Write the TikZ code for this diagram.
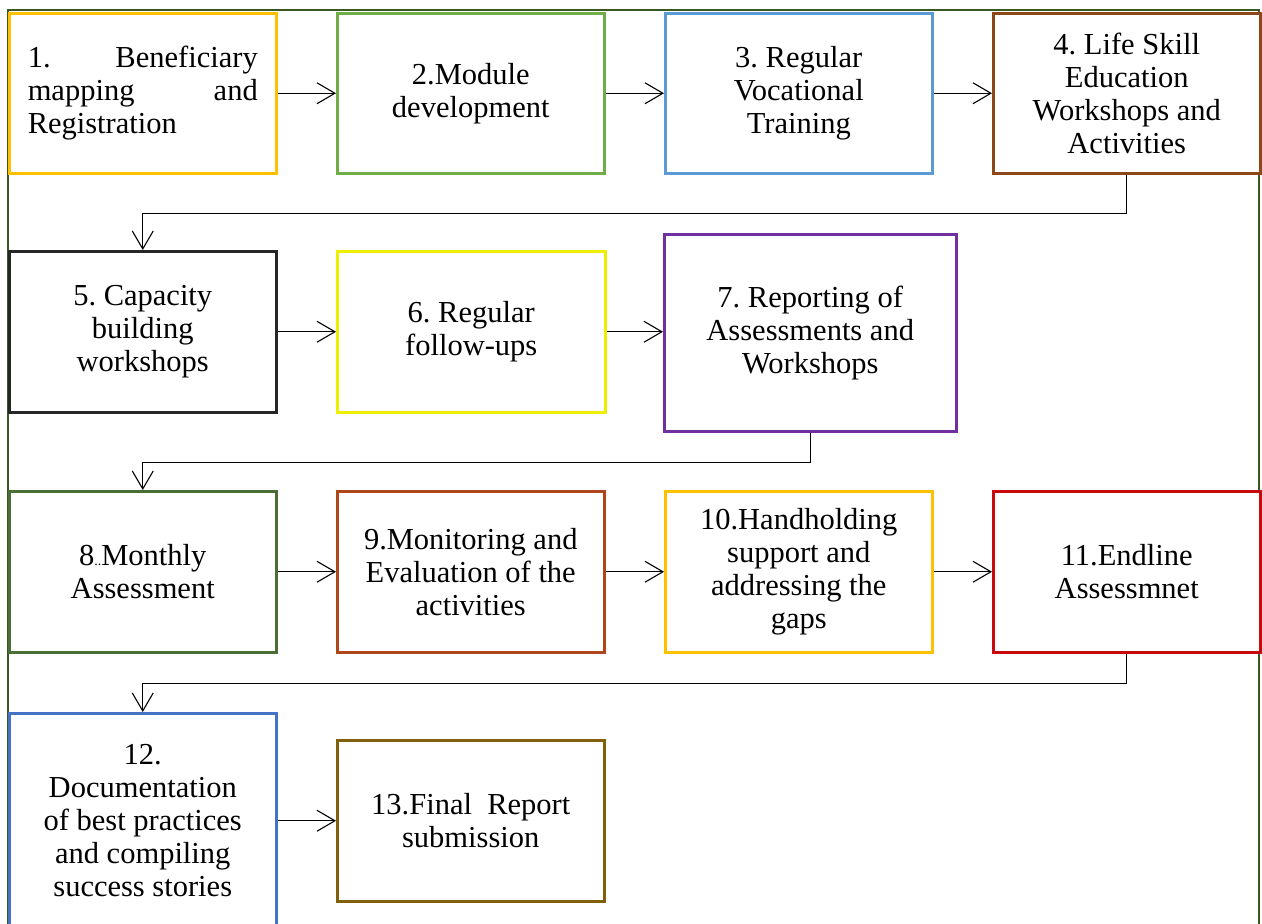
\documentclass[tikz,border=0pt]{standalone}
\usepackage{fontspec}
\setmainfont{Liberation Serif}
\usetikzlibrary{arrows.meta}
\frenchspacing
\definecolor{c1}{RGB}{255,192,0}
\definecolor{c2}{RGB}{112,173,71}
\definecolor{c3}{RGB}{91,155,213}
\definecolor{c4}{RGB}{140,72,25}
\definecolor{c5}{RGB}{38,38,38}
\definecolor{c6}{RGB}{238,238,0}
\definecolor{c7}{RGB}{112,48,160}
\definecolor{c8}{RGB}{75,110,55}
\definecolor{c9}{RGB}{175,70,25}
\definecolor{c10}{RGB}{255,192,0}
\definecolor{c11}{RGB}{200,10,10}
\definecolor{c12}{RGB}{68,114,196}
\definecolor{c13}{RGB}{128,96,10}
\definecolor{frame}{RGB}{56,87,35}
\begin{document}
\begin{tikzpicture}[x=1pt,y=-1pt,
  box/.style={draw, line width=2.5pt, fill=white, anchor=north west, inner sep=0pt,
    align=center, font=\fontsize{30.5}{33}\selectfont},
  arr/.style={line width=1.1pt, -{Straight Barb[length=18pt,width=21pt,line width=1.1pt]}}]
\useasboundingbox (0,0) rectangle (1262,924);
\fill[white] (0,0) rectangle (1262,924);
\draw[frame, line width=2pt] (8,930) -- (8,10) -- (1259,10) -- (1259,930);
% row 1
\node[box, draw=c1, minimum width=267pt, minimum height=160pt, text width=230pt, align=left] (b1) at (8,12) {1.\hfill Beneficiary\\ mapping\hfill and\\ Registration};
\node[box, draw=c2, minimum width=267pt, minimum height=160pt] (b2) at (336,12) {2.Module\\ development};
\node[box, draw=c3, minimum width=267pt, minimum height=160pt] (b3) at (664,12) {3. Regular\\ Vocational\\ Training};
\node[box, draw=c4, minimum width=267pt, minimum height=160pt] (b4) at (992,12) {4. Life Skill\\ Education\\ Workshops and\\ Activities};
% row 2
\node[box, draw=c5, minimum width=267pt, minimum height=161pt] (b5) at (8,250) {5. Capacity\\ building\\ workshops};
\node[box, draw=c6, minimum width=268pt, minimum height=161pt] (b6) at (336,250) {6. Regular\\ follow-ups};
\node[box, draw=c7, minimum width=292pt, minimum height=197pt] (b7) at (663,233) {7. Reporting of\\ Assessments and\\ Workshops};
% row 3
\node[box, draw=c8, minimum width=267pt, minimum height=161pt] (b8) at (8,490) {8{\fontsize{14}{14}\selectfont..}Monthly\\ Assessment};
\node[box, draw=c9, minimum width=267pt, minimum height=161pt] (b9) at (336,490) {9.Monitoring and\\ Evaluation of the\\ activities};
\node[box, draw=c10, minimum width=267pt, minimum height=161pt] (b10) at (664,490) {10.Handholding\\ support and\\ addressing the\\ gaps};
\node[box, draw=c11, minimum width=267pt, minimum height=161pt] (b11) at (992,490) {11.Endline\\ Assessmnet};
% row 4
\node[box, draw=c12, minimum width=267pt, minimum height=214pt] (b12) at (8,712) {12.\\ Documentation\\ of best practices\\ and compiling\\ success stories};
\node[box, draw=c13, minimum width=267pt, minimum height=161pt] (b13) at (336,739) {13.Final\ \ Report\\ submission};
% connectors
\draw[arr] (b1.east) -- (b2.west);
\draw[arr] (b2.east) -- (b3.west);
\draw[arr] (b3.east) -- (b4.west);
\draw[arr] (b4.south) -- ++(0,39) -| (b5.north);
\draw[arr] (b5.east) -- (b6.west);
\draw[arr] (b6.east) -- (b6.east -| b7.west);
\draw[arr] (b7.south) -- ++(0,30) -| (b8.north);
\draw[arr] (b8.east) -- (b9.west);
\draw[arr] (b9.east) -- (b10.west);
\draw[arr] (b10.east) -- (b11.west);
\draw[arr] (b11.south) -- ++(0,30) -| (b12.north);
\draw[arr] (b12.east |- b13.west) -- (b13.west);
\end{tikzpicture}
\end{document}
